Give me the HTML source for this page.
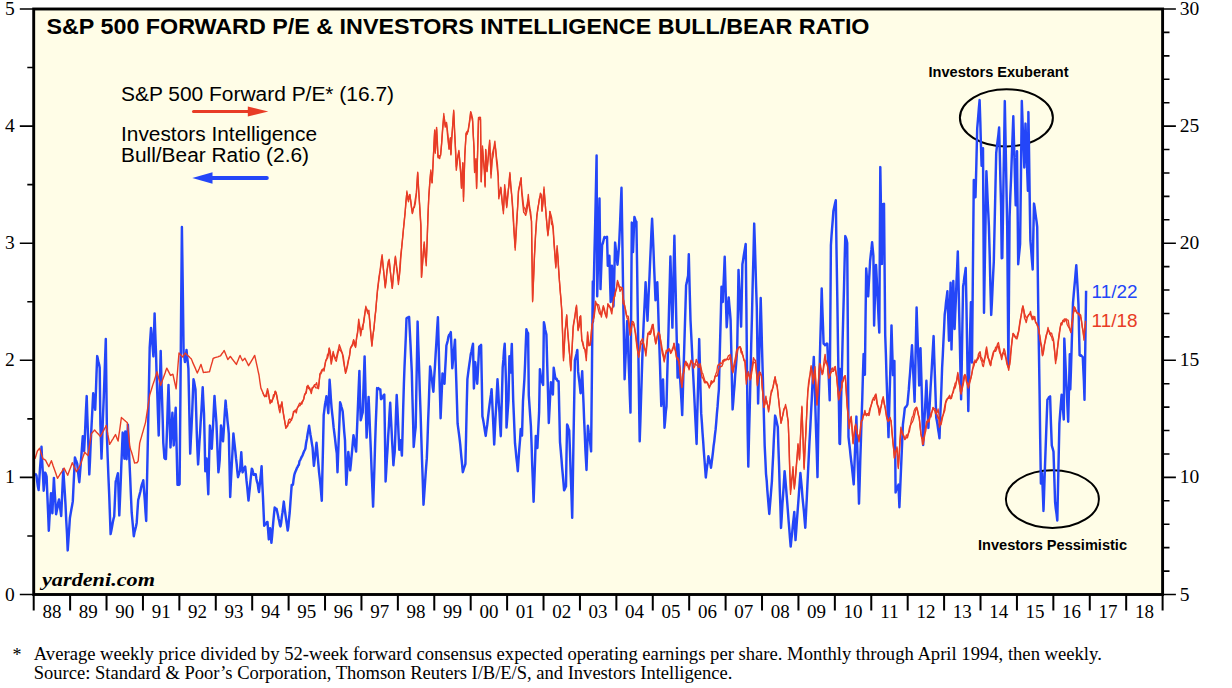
<!DOCTYPE html>
<html><head><meta charset="utf-8"><style>html,body{margin:0;padding:0;background:#fff;}svg{display:block}</style></head>
<body><svg width="1232" height="688" viewBox="0 0 1232 688">
<rect x="33.7" y="9.0" width="1128.8999999999999" height="585.5" fill="#FFFDE7"/>
<text x="46.5" y="34.2" font-family="Liberation Sans, sans-serif" font-weight="bold" font-size="22" fill="#000" textLength="823" lengthAdjust="spacingAndGlyphs">S&amp;P 500 FORWARD P/E &amp; INVESTORS INTELLIGENCE BULL/BEAR RATIO</text>
<text x="121" y="100.6" font-family="Liberation Sans, sans-serif" font-size="20" fill="#000" textLength="273" lengthAdjust="spacingAndGlyphs">S&amp;P 500 Forward P/E* (16.7)</text>
<text x="121" y="141.2" font-family="Liberation Sans, sans-serif" font-size="20" fill="#000" textLength="196" lengthAdjust="spacingAndGlyphs">Investors Intelligence</text>
<text x="121" y="162.2" font-family="Liberation Sans, sans-serif" font-size="20" fill="#000" textLength="188" lengthAdjust="spacingAndGlyphs">Bull/Bear Ratio (2.6)</text>
<line x1="193.5" y1="111.4" x2="250" y2="111.4" stroke="#E83C26" stroke-width="3" stroke-linecap="round"/>
<path d="M247.8,106.4 L268.3,111.4 L247.8,116.4 Z" fill="#E83C26"/>
<line x1="210" y1="178" x2="266.8" y2="178" stroke="#2446F8" stroke-width="4" stroke-linecap="round"/>
<path d="M192.3,178 L212.5,172.3 L212.5,183.7 Z" fill="#2446F8"/>
<ellipse cx="1006.4" cy="117.8" rx="46.5" ry="28.6" fill="none" stroke="#000" stroke-width="2"/>
<ellipse cx="1052.4" cy="499.1" rx="46.5" ry="28.8" fill="none" stroke="#000" stroke-width="2"/>
<path d="M35.0,473.5 L35.8,474.4 L36.5,475.7 L37.2,481.7 L37.9,486.6 L38.6,490.1 L39.3,479.6 L40.0,468.6 L40.8,458.0 L41.5,446.7 L42.2,461.6 L43.0,475.7 L43.7,490.7 L44.5,481.8 L45.2,472.6 L45.9,474.2 L46.6,476.5 L47.3,494.4 L48.1,512.6 L48.8,530.8 L49.5,517.9 L50.3,504.8 L51.0,493.2 L51.7,503.9 L52.4,513.3 L53.1,495.9 L53.9,477.9 L54.6,490.3 L55.4,502.6 L56.1,514.3 L56.8,510.8 L57.5,507.2 L58.3,502.3 L59.0,499.5 L59.7,505.2 L60.5,510.6 L61.2,516.0 L61.9,500.4 L62.6,484.6 L63.3,469.2 L64.0,480.6 L64.8,492.7 L65.5,504.4 L66.2,519.8 L67.0,533.6 L67.7,550.4 L68.4,540.2 L69.2,528.6 L69.9,518.0 L70.6,513.9 L71.3,509.7 L72.1,505.5 L72.8,501.4 L73.5,486.4 L74.2,472.1 L74.9,457.5 L75.7,459.7 L76.4,461.3 L77.2,463.6 L77.9,470.0 L78.6,476.6 L79.3,482.2 L80.0,473.5 L80.7,464.7 L81.4,455.4 L82.1,445.7 L82.8,436.2 L83.4,443.5 L84.1,451.2 L84.8,438.0 L85.4,423.6 L86.0,409.5 L86.7,396.1 L87.3,415.8 L88.0,434.9 L88.7,454.5 L89.3,474.4 L90.0,460.4 L90.6,445.2 L91.3,430.6 L91.9,418.7 L92.6,405.4 L93.2,393.2 L93.9,399.1 L94.5,404.6 L95.2,409.8 L95.9,392.0 L96.5,373.9 L97.2,356.1 L97.8,358.6 L98.5,362.4 L99.1,364.3 L99.7,367.7 L100.4,424.6 L101.0,442.2 L101.5,458.6 L102.2,439.0 L102.9,418.6 L103.7,399.1 L104.4,379.8 L105.1,358.9 L105.8,339.0 L106.4,387.9 L107.0,438.2 L107.7,457.7 L108.4,476.3 L109.2,494.7 L109.9,514.4 L110.6,534.1 L111.3,530.7 L112.0,527.1 L112.8,522.3 L113.5,518.9 L114.2,516.5 L115.0,498.2 L115.7,481.6 L116.4,479.3 L117.2,476.0 L117.9,473.2 L118.6,494.3 L119.3,515.4 L120.0,499.1 L120.7,482.5 L121.3,465.9 L122.0,449.6 L122.7,432.6 L123.6,445.7 L124.4,458.8 L125.3,431.4 L125.9,446.0 L126.6,459.3 L127.2,441.9 L127.9,424.7 L128.7,442.1 L129.4,460.6 L130.2,478.0 L130.9,495.0 L131.7,512.7 L132.4,520.4 L133.1,527.9 L133.8,536.2 L134.5,532.2 L135.2,529.6 L136.0,526.5 L136.7,522.7 L137.4,511.6 L138.2,500.0 L138.9,497.4 L139.7,494.1 L140.4,491.5 L141.1,487.6 L141.8,484.7 L142.6,482.8 L143.3,480.3 L144.0,490.4 L144.8,500.5 L145.5,511.8 L146.2,521.0 L146.9,486.6 L147.6,452.7 L148.3,418.3 L149.0,382.9 L149.7,347.5 L150.3,338.6 L151.0,328.0 L151.8,336.8 L152.6,346.5 L153.4,356.4 L154.0,333.4 L154.6,313.4 L155.3,334.0 L156.0,353.0 L156.6,374.3 L157.3,393.7 L158.0,415.2 L158.7,435.5 L159.4,408.3 L160.0,379.1 L160.7,351.0 L161.3,374.6 L162.0,396.9 L162.7,419.7 L163.3,442.8 L163.9,450.7 L164.4,458.0 L165.2,458.8 L165.9,459.1 L166.6,441.2 L167.2,424.3 L167.8,403.9 L168.5,384.9 L169.2,405.5 L169.8,427.3 L170.5,447.4 L171.1,436.4 L171.8,424.6 L172.4,412.7 L173.1,429.0 L173.7,445.4 L174.4,432.8 L175.0,419.6 L175.7,407.7 L176.3,433.6 L176.9,459.4 L177.5,484.8 L178.2,484.8 L178.9,484.9 L179.6,484.1 L180.4,397.9 L181.1,312.8 L181.9,226.9 L182.8,289.8 L183.6,352.8 L184.3,357.1 L185.0,362.0 L185.8,356.5 L186.5,349.9 L187.1,356.0 L187.8,362.4 L188.4,368.6 L189.0,396.7 L189.6,425.6 L190.2,453.6 L190.8,440.8 L191.5,428.0 L192.2,412.0 L192.8,396.1 L193.5,379.2 L194.2,382.1 L194.8,385.6 L195.5,389.5 L196.2,412.4 L196.8,433.5 L197.4,449.4 L198.1,464.4 L198.8,453.4 L199.4,442.7 L200.1,432.4 L200.7,421.4 L201.4,410.9 L202.1,398.3 L202.7,387.2 L203.3,400.5 L204.0,413.2 L204.7,442.5 L205.3,471.2 L205.9,464.5 L206.6,458.5 L207.4,475.5 L208.3,494.3 L209.1,459.0 L209.9,425.6 L210.5,432.9 L211.2,440.7 L211.8,448.8 L212.5,435.1 L213.2,422.8 L213.8,409.8 L214.5,395.9 L215.1,405.2 L215.8,413.9 L216.4,422.4 L217.1,439.6 L217.7,455.4 L218.4,472.3 L219.1,466.6 L219.7,459.9 L220.3,443.6 L221.0,425.4 L221.7,430.4 L222.3,436.5 L223.0,441.3 L223.7,431.4 L224.3,420.6 L224.9,411.1 L225.6,400.6 L226.2,407.7 L226.9,413.5 L227.5,420.8 L228.2,427.2 L228.8,433.9 L229.5,465.4 L230.2,497.0 L230.8,483.7 L231.5,470.2 L232.1,458.7 L232.8,445.9 L233.4,433.5 L234.1,440.2 L234.7,445.3 L235.4,451.8 L236.0,458.2 L236.7,464.2 L237.3,471.1 L238.0,477.2 L238.7,474.7 L239.3,472.3 L240.0,470.9 L240.7,461.1 L241.3,452.2 L241.9,462.9 L242.6,472.4 L243.2,470.7 L243.9,469.5 L244.5,468.0 L245.2,466.5 L245.9,473.4 L246.5,480.4 L247.2,486.6 L247.8,493.3 L248.5,500.6 L249.2,493.8 L249.8,488.1 L250.5,480.7 L251.1,475.1 L251.8,468.7 L252.4,469.7 L253.1,472.8 L253.7,474.8 L254.4,474.7 L255.0,474.1 L255.7,474.2 L256.4,478.9 L257.0,481.7 L257.7,483.8 L258.3,488.4 L259.0,492.1 L259.6,486.1 L260.3,479.6 L261.0,472.8 L261.6,466.2 L262.2,481.9 L262.9,495.6 L263.6,511.8 L264.2,525.7 L264.9,524.4 L265.5,524.4 L266.2,523.7 L266.8,522.2 L267.5,522.0 L268.1,530.1 L268.8,539.4 L269.5,534.5 L270.1,528.3 L270.8,534.8 L271.4,542.8 L272.1,536.1 L272.7,528.7 L273.4,520.7 L274.0,514.0 L274.7,507.5 L275.3,508.2 L276.0,509.3 L276.6,508.9 L277.2,511.7 L277.9,514.9 L278.6,518.7 L279.2,521.0 L279.9,525.0 L280.5,526.4 L281.2,522.5 L281.8,517.1 L282.5,512.4 L283.1,507.6 L283.8,501.6 L284.4,506.8 L285.1,512.0 L285.8,517.2 L286.4,521.4 L287.1,526.1 L287.7,530.5 L288.4,526.2 L289.0,519.1 L289.7,512.5 L290.4,502.7 L291.0,494.5 L291.7,484.9 L292.4,485.1 L293.0,484.4 L293.6,479.4 L294.3,475.0 L295.0,472.7 L295.6,471.3 L296.3,469.8 L296.9,467.9 L297.6,467.0 L298.2,465.5 L298.9,464.9 L299.5,461.1 L300.2,460.1 L300.9,458.6 L301.5,457.2 L302.1,456.1 L302.8,454.7 L303.4,453.0 L304.1,451.2 L304.8,450.0 L305.4,448.5 L306.1,443.0 L306.9,439.0 L307.6,434.1 L308.4,429.6 L309.1,425.8 L309.8,430.4 L310.5,435.0 L311.2,439.0 L311.9,443.6 L312.6,447.8 L313.2,456.9 L313.9,465.9 L314.5,460.9 L315.2,455.2 L315.9,448.6 L316.5,442.8 L317.2,449.8 L317.8,457.5 L318.5,465.7 L319.1,472.6 L319.8,478.3 L320.5,485.5 L321.1,492.7 L321.8,500.8 L322.4,472.0 L323.1,443.3 L323.7,415.2 L324.4,409.6 L325.0,404.6 L325.7,401.3 L326.4,396.3 L327.0,401.8 L327.7,407.1 L328.3,413.2 L329.0,395.7 L329.6,379.8 L330.3,389.3 L330.9,399.0 L331.6,407.8 L332.2,413.6 L332.9,419.7 L333.6,427.2 L334.2,432.0 L334.9,437.7 L335.5,443.0 L336.1,448.6 L336.8,453.4 L337.5,472.2 L338.1,455.1 L338.8,437.3 L339.5,419.7 L340.1,402.3 L340.8,404.2 L341.4,406.8 L342.1,409.1 L342.7,411.6 L343.5,421.9 L344.2,431.7 L345.0,440.4 L345.6,462.8 L346.3,484.8 L347.0,474.1 L347.6,462.9 L348.3,452.0 L348.9,457.7 L349.6,463.6 L350.2,470.4 L350.9,463.9 L351.5,456.8 L352.2,449.7 L352.8,442.6 L353.5,435.2 L354.1,438.6 L354.8,443.7 L355.5,447.8 L356.1,451.6 L356.8,435.0 L357.4,419.7 L358.1,402.2 L358.7,387.3 L359.4,370.9 L360.0,396.7 L360.7,420.3 L361.4,417.7 L362.0,414.8 L362.7,412.5 L363.3,393.6 L364.0,374.4 L364.6,356.4 L365.3,382.9 L365.9,409.9 L366.6,437.6 L367.3,423.7 L367.9,410.1 L368.6,396.9 L369.4,415.0 L370.1,432.8 L370.9,451.6 L371.6,470.0 L372.4,489.3 L373.1,506.6 L373.8,486.3 L374.5,464.7 L375.1,443.7 L375.8,422.8 L376.5,405.4 L377.1,388.1 L377.7,388.9 L378.4,388.1 L379.0,389.0 L379.7,389.3 L380.3,389.4 L381.0,399.2 L381.7,398.8 L382.3,397.4 L383.0,396.5 L383.6,395.2 L384.3,394.5 L385.0,438.1 L385.6,481.5 L386.3,469.7 L386.9,458.9 L387.6,448.2 L388.2,435.9 L388.9,425.7 L389.5,413.4 L390.2,402.8 L390.8,415.6 L391.5,428.7 L392.1,440.9 L392.8,453.0 L393.4,465.3 L394.0,458.0 L394.7,452.0 L395.4,432.7 L396.0,413.4 L396.7,395.0 L397.4,408.0 L398.0,421.6 L398.6,435.2 L399.3,449.8 L400.0,445.5 L400.6,440.2 L401.2,447.1 L401.9,455.6 L402.6,431.6 L403.2,407.7 L403.9,383.8 L404.5,367.1 L405.2,351.2 L405.9,335.0 L406.5,318.4 L407.1,317.8 L407.8,317.5 L408.5,317.8 L409.1,316.9 L409.8,330.8 L410.5,344.2 L411.1,357.4 L411.8,371.9 L412.4,396.7 L413.1,421.6 L413.7,446.9 L414.4,439.4 L415.0,433.2 L415.7,427.0 L416.3,392.2 L417.0,356.2 L417.6,321.6 L418.3,344.5 L419.1,368.0 L419.8,391.0 L420.6,413.7 L421.3,437.3 L422.0,459.4 L422.8,481.9 L423.5,504.7 L424.2,495.0 L424.8,486.1 L425.5,475.9 L426.1,467.3 L426.8,458.4 L427.5,440.5 L428.1,421.6 L428.8,403.9 L429.4,384.7 L430.1,366.4 L430.8,370.5 L431.4,375.8 L432.1,380.8 L432.7,387.0 L433.4,391.8 L434.1,378.7 L434.9,366.9 L435.6,354.7 L436.4,342.0 L437.1,329.7 L437.9,317.3 L438.6,342.2 L439.2,366.6 L439.9,392.3 L440.6,418.2 L441.2,403.9 L441.9,388.5 L442.5,373.4 L443.2,376.8 L443.8,380.6 L444.5,383.8 L445.1,370.7 L445.8,358.4 L446.4,345.5 L447.1,343.2 L447.8,340.2 L448.4,337.0 L449.1,334.9 L450.0,334.1 L450.8,332.1 L451.6,350.0 L452.3,368.2 L453.0,360.5 L453.6,353.1 L454.3,347.1 L455.0,339.7 L455.6,361.0 L456.3,381.4 L457.0,403.7 L457.6,423.7 L458.2,428.2 L458.9,433.3 L459.5,438.1 L460.2,444.1 L460.8,450.9 L461.5,458.3 L462.1,464.3 L462.8,472.2 L463.4,470.3 L464.1,467.7 L464.8,465.9 L465.4,463.9 L466.1,435.4 L466.7,407.0 L467.4,379.1 L468.1,373.6 L468.7,368.9 L469.4,363.9 L470.0,359.9 L470.7,354.6 L471.5,351.2 L472.2,347.4 L473.0,343.7 L473.9,388.4 L474.5,374.6 L475.2,362.1 L475.9,369.3 L476.5,376.9 L477.2,383.7 L477.9,371.8 L478.5,359.6 L479.2,346.8 L479.8,346.3 L480.5,345.5 L481.1,344.9 L481.8,381.3 L482.4,416.2 L483.1,419.5 L483.7,423.1 L484.4,427.6 L485.0,431.6 L485.7,435.9 L486.4,430.3 L487.2,425.0 L487.9,418.5 L488.6,412.5 L489.4,405.9 L490.1,400.4 L490.9,395.0 L491.6,389.2 L492.2,401.5 L492.9,416.3 L493.6,430.8 L494.2,444.5 L494.9,430.5 L495.5,417.9 L496.2,405.5 L496.8,392.7 L497.5,379.3 L498.2,390.4 L498.8,402.5 L499.5,412.9 L500.1,425.2 L500.8,436.2 L501.4,413.5 L502.1,389.9 L502.7,367.3 L503.4,359.7 L504.0,350.6 L504.7,343.8 L505.4,364.0 L506.1,385.2 L506.5,427.6 L507.2,418.7 L507.8,409.7 L508.5,399.9 L509.4,356.3 L510.0,364.5 L510.6,372.6 L511.2,357.0 L511.8,343.9 L512.5,372.0 L513.2,400.1 L513.8,414.1 L514.4,428.8 L515.0,443.2 L515.7,450.2 L516.4,457.8 L517.1,463.6 L517.8,471.2 L518.5,460.3 L519.2,450.0 L520.0,440.5 L520.7,429.1 L521.4,432.5 L522.0,435.6 L523.0,401.0 L523.7,389.9 L524.4,379.1 L525.1,363.1 L525.7,346.2 L526.4,329.3 L527.2,332.0 L528.1,333.3 L528.8,395.4 L529.5,405.9 L530.2,416.2 L530.9,426.0 L531.6,445.3 L532.2,464.7 L532.9,482.3 L533.6,501.7 L534.4,479.2 L535.1,459.6 L535.8,435.9 L536.6,442.1 L537.4,448.0 L538.2,430.3 L539.1,412.4 L539.9,369.2 L540.7,375.3 L541.5,380.7 L542.3,382.6 L543.1,384.9 L543.9,322.2 L544.5,324.9 L545.1,329.2 L545.8,332.0 L546.4,334.6 L547.2,363.6 L548.0,392.6 L548.8,423.0 L549.5,409.5 L550.2,395.1 L550.9,382.3 L551.6,385.8 L552.2,390.7 L552.9,394.5 L553.7,367.7 L554.5,373.0 L555.3,378.0 L556.0,379.0 L556.6,378.8 L557.3,380.4 L557.9,381.2 L558.6,381.3 L559.3,412.0 L560.0,442.1 L560.8,451.1 L561.5,459.4 L562.1,467.3 L562.8,474.9 L563.5,482.9 L564.1,490.3 L564.7,489.2 L565.4,487.5 L566.0,486.4 L566.5,455.3 L567.1,424.5 L567.8,425.8 L568.5,428.9 L569.2,430.3 L570.0,452.1 L570.7,473.9 L571.5,495.3 L572.2,517.8 L572.9,478.1 L573.5,439.6 L574.2,400.4 L574.9,360.4 L575.7,357.1 L576.5,354.1 L577.3,349.9 L578.1,371.4 L578.7,376.5 L579.4,382.2 L580.0,387.5 L580.6,393.2 L581.4,382.3 L582.2,371.3 L582.8,386.8 L583.5,402.7 L584.1,419.0 L584.8,434.6 L585.4,450.1 L586.0,460.8 L586.5,470.0 L587.2,448.6 L587.9,425.8 L588.7,432.2 L589.5,436.4 L590.3,444.0 L591.1,451.4 L592.0,365.6 L592.8,281.6 L593.0,321.6 L593.7,287.9 L594.4,255.8 L595.2,223.0 L595.9,189.7 L596.6,155.4 L597.2,296.2 L598.0,263.7 L598.7,231.0 L599.5,198.4 L600.5,289.1 L601.3,266.7 L602.1,245.2 L602.9,243.0 L603.7,239.7 L604.5,236.9 L605.1,237.3 L605.8,237.7 L606.4,237.7 L607.0,236.8 L607.8,265.7 L608.6,260.5 L609.4,255.8 L610.0,279.1 L610.7,302.0 L611.3,284.3 L611.9,265.7 L612.7,286.8 L613.5,306.4 L614.3,274.4 L615.1,242.6 L615.9,249.7 L616.7,257.4 L617.5,264.7 L618.4,254.1 L619.2,242.8 L620.0,224.7 L620.7,207.0 L621.5,187.8 L622.3,236.0 L623.0,283.8 L623.8,331.2 L624.6,379.2 L625.2,365.5 L625.9,350.2 L626.6,335.3 L627.2,321.0 L627.9,339.6 L628.5,358.3 L629.2,376.0 L629.8,395.1 L630.5,412.6 L631.1,317.9 L631.8,222.6 L632.4,237.0 L633.0,252.1 L633.7,234.2 L634.4,217.0 L635.1,219.0 L635.7,221.0 L636.4,221.8 L637.1,266.0 L637.7,309.5 L638.4,353.8 L639.0,398.1 L639.7,441.3 L640.4,420.6 L641.0,400.1 L641.7,378.1 L642.3,358.9 L643.0,338.7 L643.6,324.6 L644.3,310.3 L645.0,296.1 L645.6,282.3 L646.2,295.5 L646.9,307.6 L647.5,320.7 L648.2,304.4 L648.8,290.4 L649.5,276.4 L650.1,261.9 L650.8,246.6 L651.4,232.3 L652.1,218.7 L652.8,234.1 L653.5,250.4 L654.1,266.6 L654.8,283.2 L655.5,300.2 L656.1,294.3 L656.7,287.0 L657.3,282.2 L658.0,302.4 L658.6,323.0 L659.3,344.8 L660.0,365.0 L660.6,385.1 L661.3,405.9 L662.1,392.7 L663.0,379.4 L663.8,403.4 L664.5,427.7 L665.2,420.2 L665.8,411.9 L666.5,406.3 L667.1,380.2 L667.8,355.5 L668.5,330.7 L669.1,306.3 L669.8,281.1 L670.4,256.5 L671.1,281.3 L671.7,304.5 L672.4,327.6 L673.1,297.4 L673.7,266.3 L674.4,235.7 L675.0,264.3 L675.7,292.8 L676.3,320.9 L677.0,349.7 L677.6,377.6 L678.3,344.4 L678.9,356.9 L679.6,368.2 L680.2,380.5 L680.9,391.5 L681.6,403.5 L682.2,415.1 L682.9,392.0 L683.5,370.5 L684.2,349.1 L684.8,328.7 L685.5,305.9 L686.1,285.2 L686.8,282.4 L687.4,278.9 L688.1,275.7 L688.8,254.2 L689.6,287.1 L690.5,320.1 L691.2,334.1 L691.9,348.1 L692.5,361.5 L693.2,375.0 L693.9,388.7 L694.6,403.0 L695.2,416.0 L695.9,429.7 L696.6,444.0 L697.2,417.8 L697.9,391.8 L698.6,364.5 L699.2,339.1 L699.9,364.3 L700.5,389.7 L701.2,413.4 L701.9,422.9 L702.5,432.4 L703.2,441.6 L703.8,451.0 L704.5,460.0 L705.1,468.0 L705.8,477.5 L706.4,472.0 L707.1,466.4 L707.8,462.2 L708.4,456.2 L709.0,458.6 L709.7,461.5 L710.4,464.1 L711.0,467.7 L711.7,462.3 L712.3,457.5 L713.0,451.8 L713.6,445.9 L714.3,441.1 L714.9,435.2 L715.6,429.7 L716.3,421.7 L716.9,413.7 L717.6,406.2 L718.2,397.4 L718.9,389.5 L719.5,363.8 L720.2,337.6 L720.9,311.9 L721.5,286.7 L722.1,294.5 L722.8,302.0 L723.4,287.1 L724.1,272.0 L724.7,256.7 L725.4,280.8 L726.0,303.9 L726.7,327.2 L727.4,317.6 L728.0,307.1 L728.7,297.4 L729.3,304.8 L730.0,312.3 L730.6,320.0 L731.3,349.7 L731.9,379.9 L732.6,409.4 L733.3,401.5 L733.9,392.6 L734.6,384.6 L735.2,374.6 L735.9,366.6 L736.5,358.7 L737.2,349.0 L737.9,309.6 L738.5,269.9 L739.1,284.2 L739.8,297.6 L740.5,312.3 L741.1,326.6 L741.8,294.9 L742.4,264.3 L743.1,260.1 L743.7,256.0 L744.4,251.7 L745.0,248.1 L745.7,243.9 L746.4,307.7 L747.0,370.9 L747.7,433.7 L748.3,466.6 L749.0,436.8 L749.8,405.9 L750.5,375.8 L751.2,345.5 L752.0,314.8 L752.7,283.3 L753.5,253.7 L754.2,223.6 L754.9,244.5 L755.5,265.0 L756.1,286.6 L756.8,307.1 L757.5,355.1 L758.1,403.4 L758.8,377.2 L759.4,350.0 L760.1,323.2 L760.7,298.0 L761.4,322.8 L762.0,347.5 L762.7,372.3 L763.4,396.8 L764.0,420.3 L764.7,446.1 L765.4,460.2 L766.0,473.8 L766.7,480.6 L767.3,489.9 L768.0,498.4 L768.6,505.8 L769.3,514.0 L769.9,506.1 L770.6,497.6 L771.2,489.9 L771.9,481.4 L772.5,468.2 L773.2,454.6 L773.8,440.4 L774.5,427.0 L775.1,415.6 L775.8,417.8 L776.5,420.9 L777.1,423.9 L777.8,427.1 L778.4,447.0 L779.1,466.8 L779.7,487.4 L780.4,506.9 L781.0,527.9 L781.7,517.1 L782.4,504.2 L783.2,493.4 L783.9,482.4 L784.6,471.2 L785.3,478.7 L786.0,486.9 L786.6,494.7 L787.3,503.3 L788.0,512.6 L788.7,522.0 L789.3,529.1 L790.0,538.4 L790.7,546.6 L791.4,539.2 L792.1,533.5 L792.9,524.8 L793.6,518.5 L794.3,512.0 L794.9,526.5 L795.5,540.1 L796.2,530.9 L796.9,520.6 L797.6,511.3 L798.3,502.1 L799.0,492.3 L799.7,482.7 L800.4,473.0 L801.1,480.6 L801.8,488.0 L802.5,497.3 L803.2,504.4 L803.9,511.2 L804.6,519.9 L805.3,527.8 L806.0,513.6 L806.7,500.2 L807.4,485.1 L808.1,470.5 L808.8,455.9 L809.5,441.8 L810.3,427.4 L811.0,413.3 L811.7,400.5 L812.4,385.3 L813.1,370.1 L813.8,356.9 L814.5,380.8 L815.3,404.8 L816.0,428.9 L816.8,453.0 L817.5,477.1 L818.1,439.1 L818.7,400.7 L819.5,373.1 L820.2,344.5 L821.0,316.7 L821.7,288.5 L822.3,307.6 L823.0,326.0 L823.6,343.7 L824.3,344.1 L825.1,345.2 L825.8,344.8 L826.6,343.6 L827.3,343.7 L828.1,362.8 L828.9,381.3 L829.7,400.2 L830.3,323.1 L830.9,245.4 L831.5,236.0 L832.1,228.1 L832.8,219.4 L833.4,210.9 L834.2,207.3 L835.0,203.5 L835.8,200.2 L836.5,249.2 L837.3,297.5 L838.0,345.2 L838.8,395.4 L839.5,443.4 L840.0,369.0 L840.0,444.0 L840.7,416.8 L841.3,392.3 L842.0,365.7 L842.6,340.2 L843.3,313.9 L844.0,288.1 L844.6,262.2 L845.3,236.1 L845.9,237.6 L846.6,239.9 L847.2,243.0 L847.9,340.7 L848.5,436.8 L849.2,443.0 L849.9,448.8 L850.5,454.8 L851.2,461.0 L851.8,465.9 L852.5,472.5 L853.1,478.5 L853.7,484.4 L854.4,467.3 L855.0,450.4 L855.7,433.5 L856.4,416.6 L857.0,439.8 L857.7,461.3 L858.4,482.0 L859.0,503.6 L859.7,481.5 L860.3,459.2 L861.0,438.1 L861.6,417.9 L862.3,397.6 L862.9,375.9 L863.6,354.1 L864.2,364.7 L864.9,374.8 L865.5,321.3 L866.2,268.4 L866.9,277.9 L867.5,287.1 L868.2,296.4 L868.8,284.1 L869.5,272.5 L870.1,261.0 L870.8,254.5 L871.4,249.7 L872.1,242.2 L872.8,249.5 L873.4,255.8 L874.1,325.5 L874.7,305.2 L875.4,285.0 L876.0,264.9 L876.7,277.9 L877.3,291.1 L878.0,305.2 L878.6,319.2 L879.3,332.6 L880.3,167.1 L881.1,216.5 L881.9,263.9 L882.5,204.2 L883.2,204.9 L884.0,203.8 L884.6,269.6 L885.2,334.7 L885.9,354.6 L886.5,376.1 L887.2,396.3 L887.8,416.3 L888.5,437.1 L889.2,409.3 L890.0,381.5 L890.8,353.5 L891.5,325.4 L892.2,349.8 L893.0,375.1 L893.7,368.9 L894.4,361.0 L895.0,428.0 L895.6,492.4 L896.3,489.9 L897.0,487.5 L897.8,486.4 L898.5,484.6 L899.4,507.2 L900.1,490.7 L900.8,474.0 L901.5,457.5 L902.2,441.4 L902.9,424.7 L903.5,419.7 L904.2,413.8 L904.8,408.2 L905.4,407.3 L906.1,406.8 L906.8,405.7 L907.4,404.5 L908.1,397.0 L908.8,389.4 L909.4,380.8 L910.1,372.5 L910.7,363.7 L911.4,354.6 L912.0,345.3 L912.6,358.9 L913.3,373.6 L914.0,388.1 L914.6,401.8 L915.3,369.6 L915.9,338.6 L916.6,307.5 L917.2,326.7 L917.9,346.7 L918.6,366.2 L919.2,385.5 L919.9,366.2 L920.5,348.2 L921.2,372.4 L921.9,396.0 L922.5,419.9 L923.2,445.0 L923.8,432.4 L924.5,419.3 L925.1,407.4 L925.8,394.1 L926.4,380.8 L927.1,397.2 L927.7,412.3 L928.4,427.9 L929.1,414.6 L929.9,400.9 L930.6,387.5 L931.4,374.7 L932.1,362.4 L932.9,348.4 L933.6,336.1 L934.2,356.2 L934.9,375.9 L935.6,396.8 L936.2,417.6 L936.9,421.1 L937.5,424.5 L938.2,429.7 L938.8,433.4 L939.5,438.2 L940.1,420.0 L940.8,403.2 L941.5,385.7 L942.1,368.0 L942.8,355.1 L943.4,342.0 L944.1,328.3 L944.7,314.5 L945.4,309.1 L946.0,302.3 L946.7,297.1 L947.4,291.3 L948.2,316.4 L949.0,340.7 L949.8,311.7 L950.6,282.8 L951.5,349.4 L952.1,325.8 L952.7,304.0 L953.3,281.0 L954.0,305.1 L954.6,329.0 L955.2,314.3 L955.9,298.4 L956.5,281.7 L957.2,266.5 L957.8,251.5 L958.5,280.5 L959.1,310.1 L959.8,339.4 L960.4,368.9 L961.1,399.3 L961.8,363.1 L962.4,324.5 L963.1,286.6 L963.8,282.2 L964.4,277.0 L965.1,272.6 L965.7,268.0 L966.4,303.0 L967.0,338.5 L967.6,374.7 L968.3,411.0 L968.9,383.8 L969.6,357.1 L970.2,328.9 L970.9,302.3 L971.5,332.0 L972.0,362.4 L972.6,301.8 L973.2,240.5 L973.8,180.0 L974.6,188.1 L975.5,197.2 L976.4,162.7 L977.2,128.5 L978.0,119.1 L978.8,109.0 L979.6,100.1 L980.3,121.4 L980.9,143.9 L981.6,165.7 L982.3,156.6 L983.0,148.3 L984.0,312.8 L984.8,265.3 L985.6,217.8 L986.4,171.2 L987.0,184.5 L987.6,199.3 L988.3,213.0 L988.9,226.1 L989.7,255.1 L990.4,286.1 L991.2,314.9 L991.9,302.4 L992.5,289.3 L993.1,275.5 L993.8,261.6 L994.6,225.4 L995.4,189.5 L996.2,153.2 L996.9,146.6 L997.7,140.2 L998.4,134.6 L999.1,127.5 L999.8,154.3 L1000.4,180.1 L1001.1,206.5 L1001.7,258.2 L1002.3,258.1 L1002.9,219.3 L1003.5,179.9 L1004.2,140.1 L1004.8,101.1 L1005.6,142.7 L1006.4,184.9 L1007.2,226.8 L1007.8,297.1 L1008.4,365.9 L1009.0,290.9 L1009.6,216.9 L1010.3,196.5 L1011.1,177.4 L1011.8,156.2 L1012.6,135.6 L1013.3,116.2 L1014.1,145.7 L1014.9,176.0 L1015.7,205.2 L1016.4,177.8 L1017.0,151.3 L1017.6,207.4 L1018.2,264.2 L1018.8,257.2 L1019.5,250.4 L1020.1,244.0 L1021.0,172.2 L1021.8,101.0 L1022.4,117.5 L1023.0,134.8 L1023.7,150.0 L1024.3,167.5 L1024.9,146.0 L1025.5,123.6 L1026.3,146.4 L1027.1,168.2 L1027.9,190.7 L1028.4,112.1 L1029.1,155.2 L1029.7,198.0 L1030.4,240.7 L1031.2,250.4 L1031.9,259.8 L1032.7,269.6 L1033.3,235.7 L1034.0,203.6 L1034.6,206.7 L1035.3,212.4 L1035.9,216.8 L1036.6,221.6 L1037.2,227.0 L1038.2,304.6 L1038.9,349.0 L1039.6,394.6 L1040.2,439.5 L1040.9,483.6 L1041.5,478.9 L1042.0,473.1 L1042.8,491.7 L1043.5,510.9 L1044.1,492.8 L1044.7,474.4 L1045.3,457.3 L1046.0,437.9 L1046.7,418.4 L1047.4,399.7 L1048.1,399.0 L1048.8,397.4 L1049.4,396.9 L1050.1,396.4 L1050.9,422.1 L1051.8,445.5 L1052.7,448.6 L1053.5,451.6 L1054.3,477.4 L1055.1,502.2 L1055.8,508.8 L1056.6,514.3 L1057.3,520.5 L1058.0,487.8 L1058.7,455.8 L1059.4,423.5 L1060.1,414.0 L1060.9,403.9 L1061.6,394.8 L1062.3,402.6 L1063.1,410.7 L1063.8,419.6 L1064.3,338.6 L1065.0,352.8 L1065.6,366.6 L1066.2,380.5 L1066.9,394.4 L1067.5,407.5 L1068.2,421.8 L1069.0,388.0 L1069.8,354.3 L1070.3,389.2 L1071.0,368.3 L1071.7,345.4 L1072.3,324.7 L1073.0,302.9 L1073.7,294.7 L1074.3,287.6 L1075.0,280.3 L1075.6,272.9 L1076.3,265.2 L1077.0,277.7 L1077.8,291.3 L1078.5,304.9 L1079.0,330.0 L1079.6,355.1 L1080.2,355.7 L1080.9,355.2 L1081.5,355.8 L1082.2,356.5 L1082.8,357.3 L1083.3,369.0 L1083.9,381.1 L1084.5,399.8 L1085.3,346.6 L1086.1,290.7" fill="none" stroke="#2446F8" stroke-width="2.45" stroke-linejoin="round"/>
<path d="M35.0,458.8 L35.8,456.2 L36.6,453.6 L37.4,451.0 L38.5,449.6 L39.6,448.3 L40.4,450.9 L41.2,453.6 L42.1,456.2 L42.9,458.8 L43.8,459.2 L44.6,459.7 L45.5,460.1 L46.3,461.7 L47.1,463.4 L48.0,465.0 L48.8,466.6 L49.7,464.6 L50.5,462.7 L51.4,460.7 L52.3,463.2 L53.1,465.7 L54.0,468.2 L54.9,470.8 L55.8,473.3 L56.6,475.8 L57.5,478.3 L58.4,476.8 L59.4,475.4 L60.3,473.9 L61.3,472.5 L62.2,471.0 L63.2,469.6 L64.1,468.1 L65.0,469.9 L65.9,471.7 L66.8,473.5 L67.7,475.3 L68.6,472.8 L69.5,470.3 L70.5,467.7 L71.4,465.2 L72.3,462.7 L73.1,464.5 L73.9,466.3 L74.8,468.1 L75.6,469.9 L76.4,471.7 L77.5,469.9 L78.6,468.1 L79.4,466.6 L80.2,465.0 L81.1,462.4 L82.0,459.9 L82.9,457.3 L83.8,454.8 L84.7,452.2 L85.5,453.0 L86.3,453.9 L87.2,454.7 L88.0,455.5 L88.8,450.1 L89.7,444.7 L90.5,439.3 L91.3,433.9 L92.1,432.9 L92.9,431.9 L93.8,431.0 L94.6,430.0 L95.6,431.1 L96.5,432.2 L97.5,433.2 L98.5,434.3 L99.4,435.4 L100.4,436.5 L101.2,434.9 L102.1,433.3 L102.9,431.7 L103.8,430.2 L104.6,428.6 L105.5,427.0 L106.3,425.4 L107.1,430.1 L107.9,434.9 L108.8,439.6 L109.6,444.4 L110.4,443.0 L111.3,441.6 L112.1,440.2 L113.0,438.8 L113.8,437.4 L114.7,436.0 L115.5,434.6 L116.4,436.8 L117.2,438.9 L118.1,441.1 L118.9,435.2 L119.8,429.3 L120.6,423.4 L121.4,417.5 L122.2,418.3 L123.1,419.0 L123.9,419.8 L124.8,420.5 L125.6,421.3 L126.5,422.0 L127.3,422.8 L128.2,430.9 L129.0,438.9 L129.9,447.0 L130.7,449.7 L131.6,452.3 L132.4,455.0 L133.5,459.0 L134.6,463.0 L135.4,462.9 L136.3,462.8 L137.1,462.7 L138.2,460.8 L138.9,452.0 L139.7,443.1 L140.5,440.1 L141.4,437.1 L142.2,434.1 L143.1,431.1 L143.9,428.1 L144.8,425.1 L145.6,422.1 L146.4,416.7 L147.2,411.3 L148.1,405.8 L148.9,400.4 L149.7,395.0 L150.6,392.1 L151.5,389.2 L152.4,386.3 L153.3,383.4 L154.3,380.5 L155.2,377.6 L156.1,374.7 L157.0,371.8 L157.9,375.1 L158.8,378.5 L159.8,381.9 L160.7,385.2 L161.6,382.8 L162.4,380.3 L163.3,377.9 L164.2,375.4 L165.1,373.0 L165.9,370.5 L166.8,368.1 L167.7,369.9 L168.7,371.8 L169.6,373.6 L170.5,375.4 L171.3,375.0 L172.1,374.6 L172.9,374.2 L173.7,377.9 L174.5,381.5 L175.3,385.2 L176.1,388.9 L177.1,376.9 L178.0,365.0 L179.0,353.0 L179.9,354.0 L180.8,355.1 L181.8,356.1 L182.7,357.1 L183.5,355.7 L184.3,354.4 L185.1,353.0 L186.0,353.8 L186.8,354.7 L187.7,355.5 L188.6,356.3 L189.5,357.1 L190.3,358.0 L191.2,358.8 L192.1,360.8 L192.9,362.9 L193.8,364.9 L194.7,366.9 L195.6,368.9 L196.4,371.0 L197.3,373.0 L198.2,370.9 L199.2,368.7 L200.1,366.5 L201.0,364.4 L201.8,367.1 L202.6,369.8 L203.4,372.5 L204.3,372.4 L205.1,372.3 L206.0,372.2 L206.9,372.1 L207.8,372.0 L208.6,371.9 L209.5,371.8 L210.4,368.4 L211.3,365.1 L212.3,361.7 L213.2,358.3 L214.1,358.0 L215.0,357.7 L215.9,357.4 L216.8,357.1 L217.8,356.8 L218.7,356.5 L219.6,356.2 L220.5,355.9 L221.4,354.5 L222.3,353.2 L223.3,351.9 L224.2,350.5 L225.1,352.8 L226.0,355.1 L226.9,357.3 L227.8,359.6 L228.6,358.5 L229.5,357.5 L230.3,356.4 L231.2,357.5 L232.0,358.7 L232.9,359.8 L233.8,361.0 L234.7,362.1 L235.5,363.3 L236.4,364.4 L237.3,362.1 L238.2,359.9 L239.1,357.6 L240.0,355.4 L240.8,357.2 L241.7,359.0 L242.5,360.8 L243.3,360.0 L244.1,359.1 L244.9,358.3 L245.8,360.1 L246.8,362.0 L247.7,363.9 L248.6,365.7 L249.5,364.2 L250.3,362.8 L251.2,361.3 L252.1,359.8 L253.0,358.3 L253.8,356.9 L254.7,355.4 L255.6,359.3 L256.4,363.2 L257.3,367.2 L258.1,371.1 L259.0,375.0 L259.9,381.6 L260.9,388.1 L261.9,390.4 L262.9,392.7 L263.8,395.0 L264.8,396.3 L265.7,395.8 L266.6,396.6 L267.5,388.7 L268.4,393.0 L269.2,398.5 L270.1,402.3 L270.9,399.9 L271.8,402.2 L272.6,399.5 L273.5,394.8 L274.3,395.4 L275.2,391.1 L276.0,392.5 L277.0,396.3 L277.9,401.7 L278.9,408.6 L279.9,412.7 L280.9,406.8 L281.9,401.8 L282.9,410.8 L283.9,417.4 L284.8,421.2 L285.8,428.4 L286.8,427.0 L287.8,425.7 L288.7,419.9 L289.7,419.0 L290.6,419.6 L291.6,418.8 L292.5,417.7 L293.5,411.4 L294.4,411.3 L295.4,410.9 L296.3,412.9 L297.2,408.4 L298.2,406.5 L299.1,405.6 L300.0,405.8 L300.9,403.4 L301.9,404.0 L302.8,400.9 L303.7,399.0 L304.5,395.7 L305.4,393.9 L306.3,390.5 L307.1,386.3 L308.0,387.0 L308.8,388.6 L309.6,388.8 L310.5,390.7 L311.3,393.5 L312.1,389.2 L313.0,387.2 L313.8,386.2 L314.6,384.6 L315.6,384.7 L316.6,382.7 L317.5,387.2 L318.5,388.7 L319.2,381.6 L320.0,374.2 L320.8,373.9 L321.6,372.3 L322.5,370.2 L323.3,369.1 L324.1,368.4 L325.0,365.0 L325.8,360.9 L326.6,359.8 L327.5,354.6 L328.4,353.3 L329.2,348.4 L330.2,355.8 L331.2,364.1 L332.2,359.4 L333.2,353.5 L334.2,355.9 L335.3,358.3 L336.3,357.7 L337.3,353.3 L338.3,349.8 L339.3,344.8 L340.3,347.5 L341.4,350.8 L342.4,353.6 L343.4,360.6 L344.5,366.9 L345.5,371.9 L346.5,369.1 L347.5,366.0 L348.5,360.6 L349.5,355.5 L350.5,348.1 L351.5,346.0 L352.6,343.9 L353.6,339.8 L354.6,342.8 L355.6,346.2 L356.6,337.7 L357.7,332.7 L358.7,319.1 L359.7,326.1 L360.7,330.2 L361.7,329.4 L362.8,329.4 L363.8,319.7 L364.8,313.6 L365.8,307.6 L366.8,309.0 L367.9,312.0 L368.9,310.3 L369.9,323.9 L370.9,335.5 L371.9,346.2 L372.9,335.6 L374.0,327.5 L375.0,317.0 L375.8,309.4 L376.6,300.4 L377.5,289.3 L378.3,282.9 L379.1,276.0 L380.1,270.4 L381.1,261.5 L382.1,254.8 L383.1,266.1 L384.2,276.2 L385.2,287.9 L386.1,282.0 L387.0,270.7 L388.1,262.1 L389.2,259.3 L390.2,270.4 L391.3,279.5 L392.3,288.3 L393.3,276.3 L394.4,265.2 L395.4,257.2 L396.4,264.5 L397.4,271.4 L398.4,280.7 L399.2,277.3 L400.0,270.4 L400.8,258.3 L401.7,247.6 L402.5,239.2 L403.4,229.0 L404.2,222.5 L405.1,212.6 L405.9,201.6 L406.9,192.7 L407.7,195.3 L408.5,199.8 L409.8,194.5 L410.7,200.5 L411.5,207.7 L412.4,213.1 L413.4,208.8 L414.4,205.2 L415.4,198.5 L416.4,192.4 L417.7,172.3 L418.6,188.0 L419.6,204.1 L420.9,224.9 L421.5,277.2 L422.4,265.3 L423.3,251.5 L424.2,241.9 L425.2,254.2 L426.2,265.7 L427.1,242.1 L427.9,218.6 L428.8,197.0 L429.8,183.9 L430.8,172.1 L432.1,182.8 L433.0,165.1 L433.8,149.3 L434.7,129.9 L435.3,152.1 L436.6,127.4 L437.3,140.0 L438.0,156.4 L438.9,157.9 L439.7,155.8 L440.6,155.4 L441.6,144.2 L442.5,132.0 L443.8,116.2 L444.5,119.3 L445.2,125.1 L446.5,122.4 L447.4,133.6 L448.2,141.8 L449.1,149.0 L450.4,138.4 L450.9,154.9 L451.6,140.6 L452.4,130.1 L453.7,110.2 L454.6,130.0 L455.6,152.9 L456.3,170.2 L457.2,163.3 L458.0,155.6 L458.9,150.4 L459.9,164.3 L460.9,175.6 L461.5,188.2 L462.8,163.2 L463.5,201.2 L464.8,155.5 L466.1,133.6 L467.1,134.4 L468.1,130.5 L469.0,124.5 L469.8,118.8 L470.7,111.6 L471.6,114.5 L472.6,119.0 L473.3,135.4 L474.0,148.4 L474.6,172.5 L475.9,158.8 L476.6,188.6 L477.6,152.9 L478.5,117.6 L479.5,117.2 L480.5,119.5 L481.2,181.8 L482.5,148.8 L483.4,160.4 L484.4,170.9 L485.1,187.0 L485.7,149.4 L487.0,171.6 L487.9,160.5 L488.8,148.5 L489.7,140.2 L491.0,173.9 L492.3,153.8 L493.2,150.1 L494.0,147.1 L494.9,141.2 L495.7,150.2 L496.5,161.1 L497.4,169.6 L498.2,176.7 L498.8,198.8 L499.8,193.2 L500.8,187.9 L501.7,197.7 L502.5,205.7 L503.4,210.6 L504.7,184.8 L505.7,194.1 L506.7,206.1 L507.5,197.2 L508.3,189.8 L509.1,185.2 L509.9,174.0 L510.7,183.6 L511.6,193.7 L512.4,202.9 L513.2,213.9 L514.2,232.2 L515.2,247.4 L516.0,231.5 L516.9,217.1 L517.7,206.0 L518.5,191.4 L519.8,185.1 L521.1,177.7 L521.7,192.4 L522.7,203.5 L523.7,212.3 L524.7,213.4 L525.7,215.3 L526.6,212.1 L527.4,207.3 L528.3,199.7 L529.1,205.6 L529.9,211.2 L530.7,216.6 L531.5,221.5 L532.6,300.4 L533.6,278.6 L534.5,255.1 L535.5,236.5 L536.8,217.5 L537.7,208.7 L538.5,204.9 L539.4,199.0 L540.4,193.2 L541.4,194.9 L542.0,210.9 L543.0,203.2 L544.0,189.4 L545.0,201.6 L546.0,213.2 L546.9,224.4 L547.9,235.7 L548.9,225.8 L549.9,211.4 L550.7,214.1 L551.5,217.2 L552.3,222.0 L553.1,226.2 L554.0,240.5 L554.9,253.9 L555.8,266.5 L557.1,245.8 L557.9,256.5 L558.6,269.4 L559.4,281.0 L560.2,290.5 L561.0,299.8 L561.8,312.3 L562.6,335.1 L563.5,360.7 L564.3,347.2 L565.1,331.0 L565.9,325.0 L566.7,315.6 L567.5,327.8 L568.3,337.7 L569.1,346.4 L570.0,359.9 L570.8,370.0 L571.6,357.6 L572.4,340.9 L573.2,325.9 L574.0,321.4 L574.9,315.8 L575.7,311.3 L576.5,305.3 L577.3,318.8 L578.1,330.6 L578.9,326.0 L579.8,316.9 L580.6,315.9 L581.8,340.8 L582.8,341.8 L583.8,347.0 L585.0,349.8 L586.3,360.6 L587.6,331.9 L588.9,345.1 L590.2,345.2 L591.2,337.7 L592.2,324.7 L593.2,319.9 L594.2,313.5 L595.5,301.1 L596.5,304.2 L597.4,305.7 L598.7,311.1 L599.6,313.8 L600.5,314.6 L601.4,314.8 L602.3,310.4 L603.3,305.8 L604.1,307.9 L605.0,312.2 L605.8,315.1 L606.6,316.8 L607.9,304.0 L608.9,305.1 L609.9,306.7 L610.8,310.4 L611.8,313.9 L612.8,305.9 L613.8,297.7 L614.7,296.5 L615.6,291.7 L616.6,288.5 L617.5,280.5 L618.3,283.4 L619.2,286.8 L620.0,287.6 L620.8,286.9 L621.6,288.0 L622.4,288.5 L623.0,303.2 L623.9,304.2 L624.7,305.9 L625.6,311.6 L626.5,316.1 L627.3,318.8 L628.2,319.4 L629.2,327.9 L630.2,335.4 L631.2,330.3 L632.1,323.6 L633.1,324.4 L634.1,325.6 L635.0,330.4 L635.8,334.0 L636.7,342.3 L637.7,350.0 L638.7,356.5 L639.7,350.5 L640.6,341.7 L641.6,340.4 L642.6,338.7 L643.3,342.7 L644.0,347.7 L645.0,349.7 L645.9,356.0 L646.8,346.0 L647.8,334.6 L648.7,333.5 L649.5,334.4 L650.4,331.8 L651.3,328.8 L652.2,324.9 L653.1,324.3 L654.0,332.2 L654.8,337.8 L655.7,343.4 L656.7,338.4 L657.6,334.5 L658.6,332.1 L659.6,334.6 L660.5,339.4 L661.3,343.6 L662.2,349.1 L663.2,353.4 L664.2,360.4 L665.5,354.1 L666.3,350.2 L667.1,351.2 L668.0,351.1 L668.8,348.4 L669.8,349.5 L670.7,352.8 L671.5,351.0 L672.4,350.5 L673.2,348.3 L674.0,343.7 L674.9,349.2 L675.7,351.1 L676.6,357.5 L677.6,357.7 L678.6,359.5 L679.4,365.1 L680.2,371.4 L681.1,380.2 L681.9,386.9 L683.2,375.1 L684.1,371.2 L684.9,364.7 L685.8,361.2 L686.6,362.8 L687.5,363.8 L688.3,367.4 L689.1,368.1 L690.0,365.0 L691.0,361.7 L691.9,360.7 L692.7,364.6 L693.6,368.2 L694.5,366.8 L695.4,364.0 L696.3,359.5 L697.3,362.1 L698.2,364.9 L699.2,365.0 L700.2,365.9 L701.2,372.5 L702.1,377.9 L702.9,377.5 L703.8,380.6 L704.6,382.7 L705.4,381.3 L706.4,382.7 L707.3,382.5 L708.3,385.1 L709.3,388.1 L710.3,384.7 L711.3,380.7 L712.3,382.9 L713.3,381.8 L714.2,381.5 L715.0,376.1 L715.9,375.9 L716.8,376.2 L717.6,375.2 L718.5,370.2 L719.4,368.5 L720.2,366.4 L721.1,366.5 L722.0,366.1 L722.8,363.9 L723.7,360.1 L724.6,361.1 L725.5,359.3 L726.4,359.6 L727.4,358.7 L728.3,359.8 L729.3,359.1 L730.3,355.9 L731.2,361.6 L732.0,369.5 L732.9,372.8 L733.9,368.1 L734.8,364.5 L735.8,360.3 L736.8,354.7 L737.6,350.1 L738.5,347.1 L739.3,347.2 L740.1,346.7 L741.1,352.7 L742.1,351.8 L743.1,356.6 L744.0,360.2 L745.0,360.1 L746.3,380.0 L747.3,377.2 L748.3,372.9 L749.2,375.9 L750.2,379.6 L751.0,373.2 L751.9,369.3 L752.7,363.2 L753.5,357.7 L754.5,360.1 L755.5,360.1 L756.5,372.1 L757.4,385.6 L758.4,378.6 L759.4,371.8 L760.4,374.7 L761.4,375.4 L762.3,387.5 L763.1,395.2 L764.0,407.2 L765.0,401.6 L765.9,396.1 L766.8,403.4 L767.7,405.1 L768.6,411.9 L769.5,405.5 L770.3,400.4 L771.2,391.2 L772.2,389.3 L773.2,386.9 L774.1,381.6 L775.1,377.1 L776.1,384.5 L777.1,386.7 L778.1,394.5 L779.0,402.8 L780.0,413.3 L781.0,423.2 L782.0,417.8 L783.0,414.9 L783.9,410.3 L784.7,407.9 L785.6,406.9 L786.5,408.8 L787.3,415.2 L788.2,422.0 L789.0,442.9 L789.7,466.0 L790.5,490.0 L791.3,481.0 L792.2,476.2 L793.0,466.6 L794.3,489.0 L795.2,481.0 L796.1,467.1 L797.1,456.7 L798.0,443.8 L798.8,453.1 L799.5,458.6 L800.3,441.2 L801.1,424.1 L801.9,407.4 L803.0,437.8 L804.1,469.2 L805.0,449.2 L806.0,430.6 L806.9,409.7 L807.8,391.6 L808.6,382.5 L809.5,376.9 L810.3,374.4 L811.1,367.2 L812.1,372.6 L813.1,381.6 L814.0,374.4 L815.0,366.8 L816.0,385.0 L817.0,405.1 L817.9,392.3 L818.7,378.5 L819.6,363.5 L820.4,364.6 L821.2,369.7 L822.1,371.6 L822.9,371.7 L824.0,361.8 L825.1,354.4 L825.9,362.7 L826.7,362.7 L827.5,365.7 L828.8,378.0 L829.7,375.6 L830.5,373.1 L831.4,369.1 L832.4,368.0 L833.3,371.3 L834.3,368.9 L835.3,369.8 L836.6,376.0 L837.6,387.7 L838.6,399.9 L839.4,398.0 L840.2,392.0 L841.1,389.8 L841.9,386.6 L842.0,381.3 L842.8,381.1 L843.6,378.2 L844.5,376.3 L845.3,375.9 L846.2,387.9 L847.2,405.7 L848.2,415.2 L849.2,424.1 L850.2,419.7 L851.2,416.5 L852.2,428.7 L853.1,443.7 L854.0,434.8 L854.8,427.0 L855.7,424.2 L856.5,428.7 L857.4,433.9 L858.2,436.1 L859.0,441.9 L859.9,434.8 L860.7,428.3 L861.6,420.7 L862.4,420.4 L863.2,416.7 L864.1,413.6 L864.9,410.4 L865.7,414.4 L866.5,414.0 L867.4,413.7 L868.2,414.2 L869.1,412.0 L869.9,408.3 L870.8,406.5 L871.7,403.8 L872.5,401.2 L873.4,397.9 L874.3,397.2 L875.1,395.1 L876.0,394.0 L876.8,399.6 L877.6,405.1 L878.5,406.6 L879.3,412.3 L880.3,408.3 L881.2,406.7 L882.2,400.5 L883.2,396.6 L884.2,402.6 L885.2,408.1 L886.2,415.5 L887.2,419.7 L888.2,421.6 L889.2,419.0 L890.1,417.4 L891.1,421.3 L891.9,430.7 L892.8,439.9 L893.6,448.4 L894.4,457.6 L895.3,452.2 L896.1,451.2 L897.0,447.0 L898.3,467.0 L899.2,454.7 L900.0,439.5 L900.9,427.1 L901.9,432.7 L902.8,434.7 L903.8,436.5 L904.8,439.5 L905.7,438.4 L906.5,437.5 L907.4,437.8 L908.4,433.6 L909.4,431.3 L910.4,425.7 L911.4,423.3 L912.3,422.1 L913.1,420.3 L914.0,417.3 L914.9,413.4 L915.7,410.3 L916.6,407.2 L917.5,409.9 L918.3,414.1 L919.2,417.4 L920.1,427.0 L920.9,433.4 L921.8,438.4 L922.5,438.0 L923.2,441.9 L924.1,437.2 L924.9,431.5 L925.8,426.1 L926.6,421.6 L927.4,422.3 L928.2,420.3 L929.0,422.0 L930.0,417.1 L931.0,413.0 L932.0,411.7 L933.0,407.5 L933.8,408.5 L934.7,408.8 L935.5,409.4 L936.4,413.5 L937.2,415.5 L938.1,418.3 L938.9,417.3 L939.5,427.1 L940.3,422.8 L941.1,422.1 L942.0,416.9 L942.8,415.9 L943.8,413.3 L944.8,410.3 L945.7,403.2 L946.7,400.6 L947.7,398.3 L948.7,397.0 L949.6,395.3 L950.6,398.0 L951.5,398.2 L952.4,393.8 L953.3,390.3 L954.2,387.0 L955.1,387.9 L956.0,384.5 L956.9,378.8 L957.8,372.5 L958.6,377.1 L959.5,384.3 L960.3,391.2 L961.1,393.7 L962.1,387.6 L963.0,382.7 L964.0,375.9 L965.0,374.5 L965.8,376.4 L966.6,382.4 L967.5,382.9 L968.3,385.5 L969.1,383.9 L970.0,379.7 L970.8,378.2 L971.7,374.5 L972.5,369.1 L973.4,367.3 L974.2,365.0 L975.0,360.0 L975.9,362.3 L976.7,360.8 L977.6,359.6 L978.4,354.4 L979.3,352.7 L980.1,351.7 L980.9,357.3 L981.8,358.0 L982.6,360.8 L983.4,362.2 L984.2,359.6 L985.0,357.1 L985.8,350.7 L986.6,347.0 L987.6,352.8 L988.6,359.3 L989.6,363.2 L990.6,365.6 L991.4,360.3 L992.2,356.3 L993.0,353.1 L993.8,351.1 L994.7,350.0 L995.6,351.3 L996.6,349.1 L997.5,345.3 L998.4,346.6 L999.2,350.7 L1000.0,353.2 L1000.9,355.1 L1001.7,356.1 L1002.5,353.0 L1003.2,352.9 L1004.0,348.7 L1004.9,351.1 L1005.9,356.5 L1006.8,361.1 L1007.8,365.9 L1008.7,370.2 L1009.6,364.4 L1010.5,354.5 L1011.3,348.7 L1012.2,339.3 L1013.1,333.5 L1014.1,334.7 L1015.0,336.1 L1016.0,338.5 L1017.0,338.9 L1017.8,335.8 L1018.7,331.7 L1019.5,326.4 L1020.4,320.6 L1021.2,315.2 L1022.1,310.7 L1022.9,306.8 L1023.7,310.3 L1024.5,318.0 L1025.4,319.9 L1026.2,322.5 L1027.1,318.5 L1027.9,316.1 L1028.8,314.8 L1029.6,314.3 L1030.5,311.5 L1031.4,316.2 L1032.2,316.1 L1033.1,319.2 L1033.9,316.3 L1034.8,319.1 L1035.6,321.7 L1036.5,323.5 L1037.3,325.8 L1038.2,327.2 L1039.1,333.1 L1039.9,336.0 L1040.8,342.3 L1041.6,346.0 L1042.5,355.4 L1043.4,351.5 L1044.3,346.2 L1045.2,340.1 L1046.2,334.9 L1047.1,333.4 L1048.0,329.9 L1048.9,330.6 L1049.8,334.2 L1050.7,333.0 L1051.6,333.1 L1052.5,336.6 L1053.4,339.1 L1054.5,349.3 L1055.6,360.4 L1056.5,358.8 L1057.4,349.2 L1058.3,342.2 L1059.2,335.8 L1060.1,328.8 L1061.0,323.6 L1061.9,324.8 L1062.8,320.5 L1063.6,320.2 L1064.5,319.0 L1065.4,319.1 L1066.3,318.9 L1067.2,319.7 L1068.2,320.4 L1069.1,326.2 L1070.0,329.8 L1070.9,332.6 L1071.7,323.4 L1072.5,319.0 L1073.3,313.4 L1074.1,306.7 L1075.0,307.8 L1076.0,311.1 L1076.9,312.9 L1077.9,313.3 L1078.8,314.8 L1079.8,314.2 L1080.7,315.3 L1081.5,320.9 L1082.3,327.1 L1083.1,332.1 L1083.9,337.1 L1084.7,329.4 L1085.5,320.9" fill="none" stroke="#E83C26" stroke-width="1.4" stroke-linejoin="round"/>
<path d="M262.9,392.7 L263.8,395.0 L264.8,396.9 L265.7,395.7 L266.6,392.8 L267.5,390.2 L268.4,393.0 L269.2,397.4 L270.1,403.6 L270.9,402.2 L271.8,401.6 L272.6,399.4 L273.5,397.8 L274.3,395.9 L275.2,391.5 L276.0,392.3 L277.0,397.8 L277.9,403.0 L278.9,404.8 L279.9,408.0 L280.9,405.2 L281.9,402.8 L282.9,410.0 L283.9,415.8 L284.8,422.4 L285.8,426.7 L286.8,425.9 L287.8,424.8 L288.7,421.8 L289.7,423.0 L290.6,421.1 L291.6,420.2 L292.5,416.2 L293.5,413.2 L294.4,411.4 L295.4,410.0 L296.3,409.6 L297.2,408.6 L298.2,406.4 L299.1,404.1 L300.0,403.0 L300.9,404.5 L301.9,401.6 L302.8,401.2 L303.7,399.5 L304.5,394.5 L305.4,393.1 L306.3,393.1 L307.1,386.9 L308.0,385.2 L308.8,387.1 L309.6,387.7 L310.5,390.6 L311.3,391.9 L312.1,387.6 L313.0,387.9 L313.8,386.7 L314.6,385.4 L315.6,387.8 L316.6,387.9 L317.5,388.2 L318.5,386.8 L319.2,381.5 L320.0,373.6 L320.8,372.5 L321.6,370.3 L322.5,369.3 L323.3,369.0 L324.1,371.2 L325.0,364.3 L325.8,360.0 L326.6,358.8 L327.5,358.2 L328.4,355.0 L329.2,348.0 L330.2,351.3 L331.2,360.3 L332.2,356.1 L333.2,351.3 L334.2,356.2 L335.3,359.8 L336.3,361.3 L337.3,356.3 L338.3,351.8 L339.3,348.8 L340.3,350.3 L341.4,351.9 L342.4,353.8 L343.4,357.0 L344.5,366.1 L345.5,373.4 L346.5,370.7 L347.5,364.2 L348.5,359.2 L349.5,356.4 L350.5,348.4 L351.5,346.4 L352.6,345.6 L353.6,340.2 L354.6,345.5 L355.6,347.5 L356.6,338.4 L357.7,330.4 L358.7,322.9 L359.7,328.5 L360.7,335.9 L361.7,329.7 L362.8,325.0 L363.8,322.8 L364.8,315.0 L365.8,306.2 L366.8,310.2 L367.9,313.9 L368.9,314.0 L369.9,322.4 L370.9,334.0 L371.9,345.1 L372.9,335.6 L374.0,328.6 L375.0,316.7 L375.8,310.8 L376.6,300.0 L377.5,291.2 L378.3,284.9 L379.1,278.4 L380.1,271.7 L381.1,264.0 L382.1,256.3 L383.1,266.2 L384.2,276.9 L385.2,286.2 L386.1,278.5 L387.0,271.2 L388.1,265.2 L389.2,260.7 L390.2,269.7 L391.3,280.8 L392.3,288.2 L393.3,276.5 L394.4,265.9 L395.4,256.1 L396.4,266.8 L397.4,274.8 L398.4,284.5 L399.2,278.2 L400.0,264.1 L400.8,254.5 L401.7,247.2 L402.5,239.3 L403.4,230.5 L404.2,220.6 L405.1,212.7 L405.9,203.7 L406.9,191.0 L407.7,199.0 L408.5,201.9 L409.8,194.7 L410.7,200.9 L411.5,207.1 L412.4,213.7 L413.4,207.8 L414.4,207.3 L415.4,203.0 L416.4,194.0 L417.7,173.0 L418.6,189.8 L419.6,205.4 L420.9,227.6 L421.5,277.2 L422.4,265.8 L423.3,254.4 L424.2,244.5 L425.2,256.4 L426.2,262.0 L427.1,242.0 L427.9,216.7 L428.8,195.7 L429.8,180.9 L430.8,169.8 L432.1,182.6 L433.0,164.4 L433.8,147.2 L434.7,131.0 L435.3,153.3 L436.6,129.1 L437.3,144.4 L438.0,157.8 L438.9,155.5 L439.7,158.7 L440.6,154.3 L441.6,143.3 L442.5,129.9 L443.8,113.5 L444.5,120.9 L445.2,127.2 L446.5,123.7 L447.4,129.9 L448.2,137.5 L449.1,149.1 L450.4,137.6 L450.9,153.9 L451.6,139.1 L452.4,129.0 L453.7,111.7 L454.6,132.9 L455.6,149.7 L456.3,166.8 L457.2,159.4 L458.0,155.7 L458.9,152.2 L459.9,161.4 L460.9,175.6 L461.5,187.7 L462.8,162.6 L463.5,197.2 L464.8,155.9 L466.1,133.0 L467.1,131.3 L468.1,131.6 L469.0,125.8 L469.8,121.3 L470.7,112.2 L471.6,116.9 L472.6,121.3 L473.3,135.7 L474.0,147.4 L474.6,170.4 L475.9,161.6 L476.6,187.3 L477.6,152.3 L478.5,119.4 L479.5,119.5 L480.5,117.3 L481.2,181.7 L482.5,145.9 L483.4,159.5 L484.4,170.8 L485.1,185.6 L485.7,150.0 L487.0,171.0 L487.9,161.3 L488.8,153.6 L489.7,143.0 L491.0,178.0 L492.3,159.6 L493.2,156.0 L494.0,148.6 L494.9,145.0 L495.7,149.5 L496.5,157.0 L497.4,163.6 L498.2,175.5 L498.8,196.2 L499.8,192.0 L500.8,187.1 L501.7,196.1 L502.5,204.2 L503.4,213.8 L504.7,189.1 L505.7,197.7 L506.7,207.7 L507.5,200.4 L508.3,190.9 L509.1,180.6 L509.9,172.4 L510.7,186.1 L511.6,194.6 L512.4,206.0 L513.2,219.8 L514.2,235.8 L515.2,250.1 L516.0,236.9 L516.9,222.3 L517.7,205.9 L518.5,190.1 L519.8,184.1 L521.1,178.1 L521.7,189.7 L522.7,197.9 L523.7,206.8 L524.7,208.1 L525.7,212.2 L526.6,206.1 L527.4,202.7 L528.3,194.4 L529.1,202.7 L529.9,208.4 L530.7,212.2 L531.5,221.1 L532.6,301.8 L533.6,276.7 L534.5,255.2 L535.5,235.1 L536.8,215.3 L537.7,210.6 L538.5,204.9 L539.4,198.7 L540.4,196.4 L541.4,195.8 L542.0,211.1 L543.0,200.8 L544.0,187.0 L545.0,200.9 L546.0,214.2 L546.9,224.1 L547.9,234.6 L548.9,226.6 L549.9,211.4 L550.7,216.7 L551.5,224.2 L552.3,224.9 L553.1,229.7 L554.0,244.5 L554.9,255.3 L555.8,268.0 L557.1,249.0 L557.9,257.4 L558.6,268.3 L559.4,279.7 L560.2,291.0 L561.0,300.4 L561.8,310.0 L562.6,333.3 L563.5,358.3 L564.3,345.6 L565.1,330.8 L565.9,322.4 L566.7,314.7 L567.5,329.8 L568.3,340.2 L569.1,351.0 L570.0,357.2 L570.8,370.9 L571.6,356.8 L572.4,344.1 L573.2,328.3 L574.0,322.1 L574.9,317.4 L575.7,308.8 L576.5,306.4 L577.3,318.8 L578.1,329.6 L578.9,327.2 L579.8,324.4 L580.6,315.8 L581.8,339.7 L582.8,344.4 L583.8,348.4 L585.0,349.2 L586.3,357.2 L587.6,335.0 L588.9,345.9 L590.2,344.1 L591.2,331.5 L592.2,324.3 L593.2,320.2 L594.2,316.9 L595.5,305.7 L596.5,303.5 L597.4,304.4 L598.7,304.9 L599.6,308.3 L600.5,312.6 L601.4,317.1 L602.3,311.4 L603.3,307.2 L604.1,310.5 L605.0,313.2 L605.8,316.0 L606.6,318.0 L607.9,303.9 L608.9,306.4 L609.9,307.2 L610.8,308.2 L611.8,310.4 L612.8,305.2 L613.8,299.5 L614.7,295.5 L615.6,291.0 L616.6,286.8 L617.5,281.9 L618.3,282.7 L619.2,287.0 L620.0,291.4 L620.8,290.3 L621.6,288.3 L622.4,287.7 L623.0,299.0 L623.9,300.6 L624.7,306.3 L625.6,309.6 L626.5,314.8 L627.3,316.2 L628.2,316.1 L629.2,323.5 L630.2,334.4 L631.2,328.4 L632.1,321.4 L633.1,321.6 L634.1,323.8 L635.0,331.1 L635.8,337.4 L636.7,345.7 L637.7,352.1 L638.7,357.4 L639.7,350.6 L640.6,345.1 L641.6,343.7 L642.6,342.4 L643.3,342.1 L644.0,344.7 L645.0,349.7 L645.9,352.4 L646.8,343.5 L647.8,333.1 L648.7,333.2 L649.5,331.3 L650.4,334.3 L651.3,332.1 L652.2,327.8 L653.1,325.2 L654.0,334.5 L654.8,337.7 L655.7,344.0 L656.7,340.5 L657.6,335.3 L658.6,332.9 L659.6,333.7 L660.5,340.1 L661.3,347.3 L662.2,353.2 L663.2,356.7 L664.2,362.0 L665.5,354.1 L666.3,352.6 L667.1,351.1 L668.0,349.4 L668.8,349.4 L669.8,350.6 L670.7,353.5 L671.5,352.3 L672.4,348.5 L673.2,347.1 L674.0,343.1 L674.9,347.6 L675.7,353.4 L676.6,358.1 L677.6,359.7 L678.6,361.2 L679.4,365.1 L680.2,374.9 L681.1,380.8 L681.9,387.5 L683.2,373.2 L684.1,369.5 L684.9,363.4 L685.8,362.5 L686.6,365.7 L687.5,363.9 L688.3,366.6 L689.1,369.8 L690.0,364.3 L691.0,360.1 L691.9,361.4 L692.7,363.2 L693.6,363.3 L694.5,364.2 L695.4,364.5 L696.3,364.8 L697.3,365.5 L698.2,367.1 L699.2,367.3 L700.2,363.7 L701.2,368.4 L702.1,372.5 L702.9,373.9 L703.8,377.1 L704.6,379.8 L705.4,382.9 L706.4,381.7 L707.3,382.3 L708.3,385.1 L709.3,386.9 L710.3,385.3 L711.3,384.0 L712.3,381.5 L713.3,381.5 L714.2,379.7 L715.0,377.1 L715.9,373.8 L716.8,371.8 L717.6,365.8 L718.5,364.4 L719.4,365.2 L720.2,362.7 L721.1,363.5 L722.0,363.3 L722.8,360.3 L723.7,360.0 L724.6,359.4 L725.5,359.8 L726.4,359.9 L727.4,358.3 L728.3,355.9 L729.3,355.2 L730.3,354.5 L731.2,361.5 L732.0,367.2 L732.9,371.4 L733.9,364.7 L734.8,360.5 L735.8,355.3 L736.8,349.7 L737.6,349.4 L738.5,348.0 L739.3,347.4 L740.1,347.0 L741.1,348.4 L742.1,354.4 L743.1,355.7 L744.0,360.3 L745.0,362.8 L746.3,384.2 L747.3,375.5 L748.3,371.7 L749.2,375.9 L750.2,379.8 L751.0,378.0 L751.9,371.5 L752.7,367.2 L753.5,361.7 L754.5,362.7 L755.5,363.1 L756.5,372.9 L757.4,384.4 L758.4,376.3 L759.4,372.7 L760.4,372.5 L761.4,375.2 L762.3,388.9 L763.1,397.5 L764.0,407.4 L765.0,404.3 L765.9,398.7 L766.8,400.9 L767.7,405.5 L768.6,410.3 L769.5,404.8 L770.3,396.7 L771.2,393.4 L772.2,391.1 L773.2,385.7 L774.1,381.5 L775.1,376.6 L776.1,382.7 L777.1,384.5 L778.1,395.0 L779.0,403.3 L780.0,411.9 L781.0,423.0 L782.0,419.5 L783.0,413.1 L783.9,408.9 L784.7,407.7 L785.6,404.5 L786.5,409.6 L787.3,416.3 L788.2,421.5 L789.0,443.9 L789.7,471.6 L790.5,494.4 L791.3,487.1 L792.2,477.6 L793.0,470.0 L794.3,487.4 L795.2,480.7 L796.1,471.4 L797.1,457.5 L798.0,444.8 L798.8,450.0 L799.5,459.9 L800.3,441.5 L801.1,424.1 L801.9,406.1 L803.0,437.5 L804.1,467.4 L805.0,449.2 L806.0,428.2 L806.9,410.2 L807.8,392.2 L808.6,386.4 L809.5,379.2 L810.3,371.4 L811.1,365.7 L812.1,373.1 L813.1,383.8 L814.0,378.1 L815.0,371.0 L816.0,387.5 L817.0,404.2 L817.9,389.9 L818.7,376.9 L819.6,364.6 L820.4,367.5 L821.2,370.0 L822.1,374.5 L822.9,373.5 L824.0,365.9 L825.1,362.7 L825.9,360.3 L826.7,362.5 L827.5,365.9 L828.8,378.1 L829.7,376.5 L830.5,373.6 L831.4,371.9 L832.4,371.1 L833.3,371.4 L834.3,367.3 L835.3,366.4 L836.6,376.8 L837.6,386.9 L838.6,397.6 L839.4,396.2 L840.2,391.8 L841.1,389.8 L841.9,387.1 L842.0,383.1 L842.8,382.0 L843.6,379.9 L844.5,376.2 L845.3,375.8 L846.2,392.6 L847.2,407.4 L848.2,417.4 L849.2,428.6 L850.2,421.3 L851.2,417.1 L852.2,432.4 L853.1,442.8 L854.0,436.3 L854.8,429.5 L855.7,425.4 L856.5,429.2 L857.4,434.1 L858.2,436.4 L859.0,440.8 L859.9,433.8 L860.7,424.2 L861.6,420.7 L862.4,420.0 L863.2,414.9 L864.1,415.2 L864.9,413.2 L865.7,414.8 L866.5,415.8 L867.4,414.0 L868.2,415.4 L869.1,415.5 L869.9,411.1 L870.8,406.8 L871.7,402.8 L872.5,399.7 L873.4,399.1 L874.3,400.2 L875.1,398.0 L876.0,395.6 L876.8,403.4 L877.6,405.7 L878.5,409.1 L879.3,415.2 L880.3,411.8 L881.2,405.8 L882.2,400.6 L883.2,398.2 L884.2,404.2 L885.2,407.5 L886.2,413.4 L887.2,418.4 L888.2,420.2 L889.2,420.4 L890.1,420.6 L891.1,420.6 L891.9,431.3 L892.8,441.6 L893.6,448.5 L894.4,458.2 L895.3,453.2 L896.1,450.4 L897.0,448.5 L898.3,468.5 L899.2,454.7 L900.0,442.4 L900.9,430.7 L901.9,430.6 L902.8,433.9 L903.8,435.7 L904.8,439.3 L905.7,437.3 L906.5,434.8 L907.4,436.3 L908.4,433.1 L909.4,428.0 L910.4,425.3 L911.4,419.9 L912.3,416.8 L913.1,415.8 L914.0,411.1 L914.9,409.0 L915.7,407.9 L916.6,407.5 L917.5,410.9 L918.3,415.2 L919.2,417.9 L920.1,425.2 L920.9,434.2 L921.8,438.4 L922.5,444.5 L923.2,444.3 L924.1,439.1 L924.9,434.3 L925.8,430.8 L926.6,425.4 L927.4,420.2 L928.2,420.3 L929.0,419.3 L930.0,416.8 L931.0,416.9 L932.0,411.8 L933.0,407.8 L933.8,409.7 L934.7,410.6 L935.5,413.6 L936.4,411.5 L937.2,412.4 L938.1,409.0 L938.9,414.4 L939.5,425.1 L940.3,424.5 L941.1,424.7 L942.0,420.3 L942.8,416.4 L943.8,411.2 L944.8,405.9 L945.7,401.5 L946.7,399.0 L947.7,398.7 L948.7,398.4 L949.6,397.7 L950.6,398.9 L951.5,396.8 L952.4,393.8 L953.3,392.4 L954.2,388.3 L955.1,383.1 L956.0,382.8 L956.9,379.5 L957.8,374.1 L958.6,380.5 L959.5,384.8 L960.3,386.3 L961.1,394.0 L962.1,389.3 L963.0,385.6 L964.0,380.5 L965.0,375.2 L965.8,376.1 L966.6,382.1 L967.5,385.3 L968.3,388.2 L969.1,385.3 L970.0,381.7 L970.8,379.0 L971.7,374.4 L972.5,370.7 L973.4,364.0 L974.2,361.5 L975.0,362.1 L975.9,362.6 L976.7,359.6 L977.6,357.7 L978.4,358.6 L979.3,355.4 L980.1,354.7 L980.9,359.7 L981.8,361.4 L982.6,365.7 L983.4,366.6 L984.2,362.5 L985.0,357.9 L985.8,353.8 L986.6,351.1 L987.6,357.7 L988.6,358.4 L989.6,360.8 L990.6,365.6 L991.4,360.5 L992.2,358.6 L993.0,356.1 L993.8,351.9 L994.7,351.3 L995.6,347.1 L996.6,347.8 L997.5,343.9 L998.4,342.5 L999.2,346.4 L1000.0,350.3 L1000.9,356.0 L1001.7,359.5 L1002.5,355.7 L1003.2,353.6 L1004.0,352.7 L1004.9,355.1 L1005.9,358.7 L1006.8,363.8 L1007.8,366.7 L1008.7,367.7 L1009.6,364.8 L1010.5,359.3 L1011.3,346.7 L1012.2,339.7 L1013.1,333.3 L1014.1,335.8 L1015.0,337.2 L1016.0,337.2 L1017.0,336.7 L1017.8,333.2 L1018.7,330.7 L1019.5,324.1 L1020.4,318.7 L1021.2,315.4 L1022.1,308.7 L1022.9,305.7 L1023.7,309.1 L1024.5,313.6 L1025.4,315.7 L1026.2,317.9 L1027.1,316.9 L1027.9,316.3 L1028.8,314.4 L1029.6,313.8 L1030.5,314.0 L1031.4,316.8 L1032.2,319.8 L1033.1,318.2 L1033.9,318.7 L1034.8,316.6 L1035.6,322.8 L1036.5,322.8 L1037.3,324.5 L1038.2,326.9 L1039.1,330.7 L1039.9,338.3 L1040.8,344.5 L1041.6,347.9 L1042.5,355.8 L1043.4,353.0 L1044.3,344.5 L1045.2,341.7 L1046.2,336.8 L1047.1,332.3 L1048.0,327.4 L1048.9,331.4 L1049.8,332.3 L1050.7,335.7 L1051.6,336.8 L1052.5,340.3 L1053.4,341.0 L1054.5,350.9 L1055.6,363.6 L1056.5,356.5 L1057.4,348.8 L1058.3,340.2 L1059.2,333.2 L1060.1,327.9 L1061.0,323.1 L1061.9,322.5 L1062.8,322.1 L1063.6,320.6 L1064.5,321.7 L1065.4,319.3 L1066.3,320.5 L1067.2,324.5 L1068.2,326.4 L1069.1,328.0 L1070.0,329.5 L1070.9,332.0 L1071.7,327.6 L1072.5,322.2 L1073.3,314.3 L1074.1,309.9 L1075.0,311.0 L1076.0,310.2 L1076.9,312.8 L1077.9,312.9 L1078.8,313.3 L1079.8,315.5 L1080.7,317.8 L1081.5,321.0 L1082.3,327.0 L1083.1,330.8 L1083.9,340.2 L1084.7,330.4 L1085.5,324.2" fill="none" stroke="#E83C26" stroke-width="1.3" stroke-linejoin="round"/>
<text x="928.5" y="76.9" font-family="Liberation Sans, sans-serif" font-weight="bold" font-size="14" fill="#000" textLength="140" lengthAdjust="spacingAndGlyphs">Investors Exuberant</text>
<text x="978" y="549.8" font-family="Liberation Sans, sans-serif" font-weight="bold" font-size="14" fill="#000" textLength="149" lengthAdjust="spacingAndGlyphs">Investors Pessimistic</text>
<text x="1091.5" y="298.4" font-family="Liberation Sans, sans-serif" font-size="18" fill="#2446F8" textLength="46" lengthAdjust="spacingAndGlyphs">11/22</text>
<text x="1091.5" y="327.4" font-family="Liberation Sans, sans-serif" font-size="18" fill="#E83C26" textLength="46" lengthAdjust="spacingAndGlyphs">11/18</text>
<text x="42" y="586.2" font-family="Liberation Serif, serif" font-weight="bold" font-style="italic" font-size="19" fill="#000" textLength="113" lengthAdjust="spacingAndGlyphs">yardeni.com</text>
<rect x="33.7" y="9.0" width="1128.8999999999999" height="585.5" fill="none" stroke="#000" stroke-width="2.9"/>
<path d="M19.8,594.50 H33.7 M27.3,535.95 H33.7 M19.8,477.40 H33.7 M27.3,418.85 H33.7 M19.8,360.30 H33.7 M27.3,301.75 H33.7 M19.8,243.20 H33.7 M27.3,184.65 H33.7 M19.8,126.10 H33.7 M27.3,67.55 H33.7 M19.8,9.00 H33.7 M1162.6,594.50 H1175.9 M1162.6,571.08 H1169.5 M1162.6,547.66 H1169.5 M1162.6,524.24 H1169.5 M1162.6,500.82 H1169.5 M1162.6,477.40 H1175.9 M1162.6,453.98 H1169.5 M1162.6,430.56 H1169.5 M1162.6,407.14 H1169.5 M1162.6,383.72 H1169.5 M1162.6,360.30 H1175.9 M1162.6,336.88 H1169.5 M1162.6,313.46 H1169.5 M1162.6,290.04 H1169.5 M1162.6,266.62 H1169.5 M1162.6,243.20 H1175.9 M1162.6,219.78 H1169.5 M1162.6,196.36 H1169.5 M1162.6,172.94 H1169.5 M1162.6,149.52 H1169.5 M1162.6,126.10 H1175.9 M1162.6,102.68 H1169.5 M1162.6,79.26 H1169.5 M1162.6,55.84 H1169.5 M1162.6,32.42 H1169.5 M1162.6,9.00 H1175.9" stroke="#000" stroke-width="1.6" fill="none"/>
<path d="M33.70,594.5 V610.5 M70.12,594.5 V610.5 M106.53,594.5 V610.5 M142.95,594.5 V610.5 M179.36,594.5 V610.5 M215.78,594.5 V610.5 M252.20,594.5 V610.5 M288.61,594.5 V610.5 M325.03,594.5 V610.5 M361.45,594.5 V610.5 M397.86,594.5 V610.5 M434.28,594.5 V610.5 M470.69,594.5 V610.5 M507.11,594.5 V610.5 M543.53,594.5 V610.5 M579.94,594.5 V610.5 M616.36,594.5 V610.5 M652.77,594.5 V610.5 M689.19,594.5 V610.5 M725.61,594.5 V610.5 M762.02,594.5 V610.5 M798.44,594.5 V610.5 M834.85,594.5 V610.5 M871.27,594.5 V610.5 M907.69,594.5 V610.5 M944.10,594.5 V610.5 M980.52,594.5 V610.5 M1016.94,594.5 V610.5 M1053.35,594.5 V610.5 M1089.77,594.5 V610.5 M1126.18,594.5 V610.5 M1162.60,594.5 V610.5" stroke="#000" stroke-width="2" fill="none"/>
<text x="14.8" y="600.5" text-anchor="end" font-family="Liberation Serif, serif" font-size="19.5" fill="#000">0</text>
<text x="14.8" y="483.4" text-anchor="end" font-family="Liberation Serif, serif" font-size="19.5" fill="#000">1</text>
<text x="14.8" y="366.3" text-anchor="end" font-family="Liberation Serif, serif" font-size="19.5" fill="#000">2</text>
<text x="14.8" y="249.2" text-anchor="end" font-family="Liberation Serif, serif" font-size="19.5" fill="#000">3</text>
<text x="14.8" y="132.1" text-anchor="end" font-family="Liberation Serif, serif" font-size="19.5" fill="#000">4</text>
<text x="14.8" y="15.0" text-anchor="end" font-family="Liberation Serif, serif" font-size="19.5" fill="#000">5</text>
<text x="1179.8" y="600.5" font-family="Liberation Serif, serif" font-size="19.5" fill="#000">5</text>
<text x="1179.8" y="483.4" font-family="Liberation Serif, serif" font-size="19.5" fill="#000">10</text>
<text x="1179.8" y="366.3" font-family="Liberation Serif, serif" font-size="19.5" fill="#000">15</text>
<text x="1179.8" y="249.2" font-family="Liberation Serif, serif" font-size="19.5" fill="#000">20</text>
<text x="1179.8" y="132.1" font-family="Liberation Serif, serif" font-size="19.5" fill="#000">25</text>
<text x="1179.8" y="15.0" font-family="Liberation Serif, serif" font-size="19.5" fill="#000">30</text>
<text x="51.9" y="617.9" text-anchor="middle" font-family="Liberation Serif, serif" font-size="19" fill="#000">88</text>
<text x="88.3" y="617.9" text-anchor="middle" font-family="Liberation Serif, serif" font-size="19" fill="#000">89</text>
<text x="124.7" y="617.9" text-anchor="middle" font-family="Liberation Serif, serif" font-size="19" fill="#000">90</text>
<text x="161.2" y="617.9" text-anchor="middle" font-family="Liberation Serif, serif" font-size="19" fill="#000">91</text>
<text x="197.6" y="617.9" text-anchor="middle" font-family="Liberation Serif, serif" font-size="19" fill="#000">92</text>
<text x="234.0" y="617.9" text-anchor="middle" font-family="Liberation Serif, serif" font-size="19" fill="#000">93</text>
<text x="270.4" y="617.9" text-anchor="middle" font-family="Liberation Serif, serif" font-size="19" fill="#000">94</text>
<text x="306.8" y="617.9" text-anchor="middle" font-family="Liberation Serif, serif" font-size="19" fill="#000">95</text>
<text x="343.2" y="617.9" text-anchor="middle" font-family="Liberation Serif, serif" font-size="19" fill="#000">96</text>
<text x="379.7" y="617.9" text-anchor="middle" font-family="Liberation Serif, serif" font-size="19" fill="#000">97</text>
<text x="416.1" y="617.9" text-anchor="middle" font-family="Liberation Serif, serif" font-size="19" fill="#000">98</text>
<text x="452.5" y="617.9" text-anchor="middle" font-family="Liberation Serif, serif" font-size="19" fill="#000">99</text>
<text x="488.9" y="617.9" text-anchor="middle" font-family="Liberation Serif, serif" font-size="19" fill="#000">00</text>
<text x="525.3" y="617.9" text-anchor="middle" font-family="Liberation Serif, serif" font-size="19" fill="#000">01</text>
<text x="561.7" y="617.9" text-anchor="middle" font-family="Liberation Serif, serif" font-size="19" fill="#000">02</text>
<text x="598.1" y="617.9" text-anchor="middle" font-family="Liberation Serif, serif" font-size="19" fill="#000">03</text>
<text x="634.6" y="617.9" text-anchor="middle" font-family="Liberation Serif, serif" font-size="19" fill="#000">04</text>
<text x="671.0" y="617.9" text-anchor="middle" font-family="Liberation Serif, serif" font-size="19" fill="#000">05</text>
<text x="707.4" y="617.9" text-anchor="middle" font-family="Liberation Serif, serif" font-size="19" fill="#000">06</text>
<text x="743.8" y="617.9" text-anchor="middle" font-family="Liberation Serif, serif" font-size="19" fill="#000">07</text>
<text x="780.2" y="617.9" text-anchor="middle" font-family="Liberation Serif, serif" font-size="19" fill="#000">08</text>
<text x="816.6" y="617.9" text-anchor="middle" font-family="Liberation Serif, serif" font-size="19" fill="#000">09</text>
<text x="853.1" y="617.9" text-anchor="middle" font-family="Liberation Serif, serif" font-size="19" fill="#000">10</text>
<text x="889.5" y="617.9" text-anchor="middle" font-family="Liberation Serif, serif" font-size="19" fill="#000">11</text>
<text x="925.9" y="617.9" text-anchor="middle" font-family="Liberation Serif, serif" font-size="19" fill="#000">12</text>
<text x="962.3" y="617.9" text-anchor="middle" font-family="Liberation Serif, serif" font-size="19" fill="#000">13</text>
<text x="998.7" y="617.9" text-anchor="middle" font-family="Liberation Serif, serif" font-size="19" fill="#000">14</text>
<text x="1035.1" y="617.9" text-anchor="middle" font-family="Liberation Serif, serif" font-size="19" fill="#000">15</text>
<text x="1071.6" y="617.9" text-anchor="middle" font-family="Liberation Serif, serif" font-size="19" fill="#000">16</text>
<text x="1108.0" y="617.9" text-anchor="middle" font-family="Liberation Serif, serif" font-size="19" fill="#000">17</text>
<text x="1144.4" y="617.9" text-anchor="middle" font-family="Liberation Serif, serif" font-size="19" fill="#000">18</text>
<text x="12.5" y="660.5" font-family="Liberation Serif, serif" font-size="18" fill="#000">*</text>
<text x="33.8" y="659.7" font-family="Liberation Serif, serif" font-size="18" fill="#000" textLength="1068" lengthAdjust="spacingAndGlyphs">Average weekly price divided by 52-week forward consensus expected operating earnings per share. Monthly through April 1994, then weekly.</text>
<text x="33.8" y="678.6" font-family="Liberation Serif, serif" font-size="18" fill="#000" textLength="698.5" lengthAdjust="spacingAndGlyphs">Source: Standard &amp; Poor’s Corporation, Thomson Reuters I/B/E/S, and Investors Intelligence.</text>
</svg></body></html>
